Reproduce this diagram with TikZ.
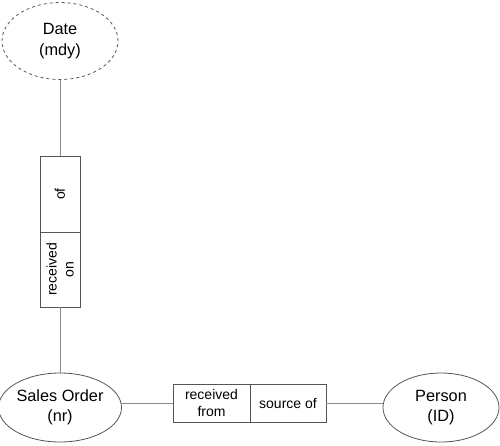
\documentclass[tikz,border=0pt]{standalone}
\usepackage{fontspec}
\setmainfont{Liberation Sans}
\usetikzlibrary{shapes.geometric}
\definecolor{edgegray}{HTML}{555555}
\definecolor{linegray}{HTML}{8A8A8A}
\tikzset{
  entity/.style={ellipse, draw=edgegray, line width=0.8pt, inner sep=0pt, outer sep=0pt,
    minimum width=116pt, align=center, font=\fontsize{16.3}{20.5}\selectfont},
  rolebox/.style={rectangle, draw=edgegray, line width=0.8pt, inner sep=0pt, outer sep=0pt,
    align=center, font=\fontsize{14}{17}\selectfont},
  link/.style={draw=linegray, line width=0.9pt}
}
\begin{document}
\begin{tikzpicture}[x=1pt,y=-1pt]
\useasboundingbox (0,0) rectangle (500,445);
\node[entity, dashed, minimum height=77pt] (date) at (60,41) {Date\\(mdy)};
\node[entity, minimum height=69pt] (order) at (60,407.5) {Sales Order\\(nr)};
\node[entity, minimum height=69pt] (person) at (441,407.5) {Person\\(ID)};
\node[rolebox, rotate=90, minimum width=76pt, minimum height=40pt] (of) at (60,194) {of};
\node[rolebox, rotate=90, minimum width=75pt, minimum height=40pt] (recon) at (60,269.5) {received\\on};
\node[rolebox, minimum width=77pt, minimum height=38pt] (recfrom) at (211.5,403) {received\\from};
\node[rolebox, minimum width=76pt, minimum height=38pt] (source) at (288,403) {source of};
\draw[link] (date) -- (of);
\draw[link] (recon) -- (order);
\draw[link] (order.east |- recfrom) -- (recfrom);
\draw[link] (source) -- (person.west |- source);
\end{tikzpicture}
\end{document}
